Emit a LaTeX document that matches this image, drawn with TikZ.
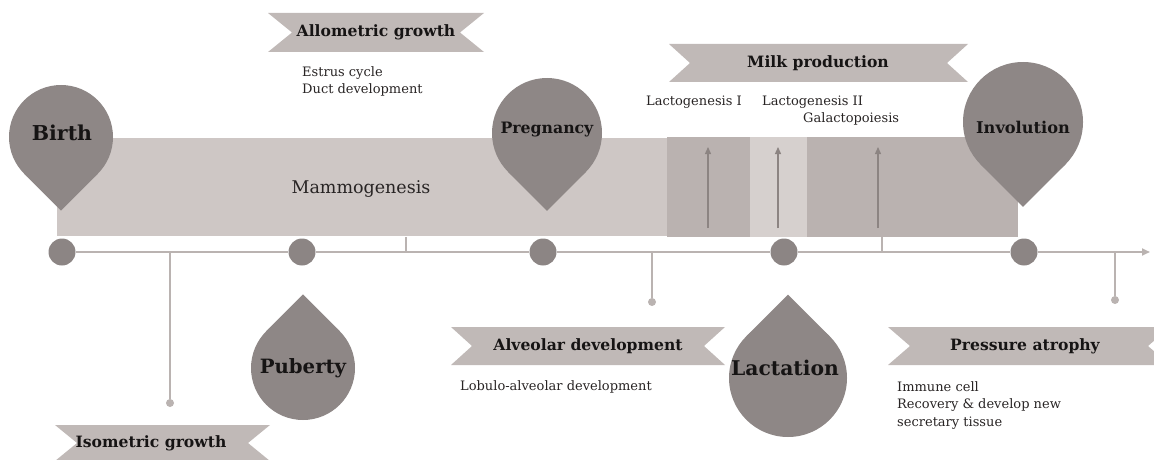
\documentclass[tikz,border=0pt]{standalone}
\usepackage{fontspec}
\setmainfont{DejaVu Serif}
\usetikzlibrary{arrows.meta,calc}
\definecolor{pinc}{RGB}{142,135,134}
\definecolor{dotc}{RGB}{140,133,132}
\definecolor{lightrect}{RGB}{206,199,197}
\definecolor{darkrect}{RGB}{186,178,176}
\definecolor{midrect}{RGB}{214,208,206}
\definecolor{bannerc}{RGB}{192,185,183}
\definecolor{linec}{RGB}{186,179,177}
\definecolor{arrowc}{RGB}{140,132,130}
\definecolor{txtc}{RGB}{22,20,20}
\definecolor{subc}{RGB}{40,36,36}
\newcommand{\mypin}[4]{%
  \fill[pinc] (#1,#2) circle[radius=#3];
  \fill[pinc] ($(#1,#2)+({-0.7071*#3},{#4*0.7071*#3})$) -- (#1,{#2+#4*1.4142*#3})
     -- ($(#1,#2)+({0.7071*#3},{#4*0.7071*#3})$) -- (#1,#2) -- cycle;}
\newcommand{\mybanner}[6]{%
  \fill[bannerc] (#1,#3) -- (#2,#3) -- ({#2-#5},{(#3+#4)/2}) -- (#2,#4) -- (#1,#4)
     -- ({#1+#5},{(#3+#4)/2}) -- cycle;}
\tikzset{
  dotnode/.style={circle,fill=dotc,minimum size=27pt,inner sep=0pt},
  smalldot/.style={circle,fill=linec,minimum size=8pt,inner sep=0pt},
  tline/.style={draw=linec,line width=2pt},
  stem/.style={draw=linec,line width=1.5pt},
  uparrow/.style={draw=arrowc,line width=1.3pt,-{Triangle[length=7pt,width=6pt]}},
  bantxt/.style={font=\bfseries\fontsize{15.6}{18}\selectfont,text=txtc,inner sep=0pt},
  subtxt/.style={font=\fontsize{13}{16}\selectfont,text=subc,inner sep=0pt,anchor=west},
  pintxt/.style={text=txtc,inner sep=0pt},
}
\begin{document}
\begin{tikzpicture}[x=1pt,y=-1pt]
\useasboundingbox (0,0) rectangle (1154,460);
% bands
\fill[lightrect] (57,138) rectangle (667,236);
\fill[darkrect] (667,137) rectangle (750,237);
\fill[midrect] (750,137) rectangle (807,237);
\fill[darkrect] (807,137) rectangle (1018,237);
\node[font=\fontsize{17.5}{20}\selectfont,text=subc,inner sep=0pt] (mammo) at (361,189) {Mammogenesis};
% arrows in lactation bands
\coordinate (a1s) at (708,228); \coordinate (a1e) at (708,147);
\coordinate (a2s) at (778,228); \coordinate (a2e) at (778,147);
\coordinate (a3s) at (878,228); \coordinate (a3e) at (878,147);
\draw[uparrow] (a1s) -- (a1e);
\draw[uparrow] (a2s) -- (a2e);
\draw[uparrow] (a3s) -- (a3e);
% timeline
\node[dotnode] (d1) at (62,252) {};
\node[dotnode] (d2) at (302,252) {};
\node[dotnode] (d3) at (543,252) {};
\node[dotnode] (d4) at (784,252) {};
\node[dotnode] (d5) at (1024,252) {};
\coordinate (tend) at (1150,252);
\draw[tline] (d1) -- (d2);
\draw[tline] (d2) -- (d3);
\draw[tline] (d3) -- (d4);
\draw[tline] (d4) -- (d5);
\draw[tline,-{Triangle[length=8pt,width=7pt]}] (d5) -- (tend);
% ticks up
\coordinate (t1a) at (406,252); \coordinate (t1b) at (406,237);
\coordinate (t2a) at (882,252); \coordinate (t2b) at (882,237);
\draw[stem] (t1a) -- (t1b);
\draw[stem] (t2a) -- (t2b);
% stems down
\coordinate (s1a) at (170,252); \node[smalldot] (s1) at (170,403) {};
\coordinate (s2a) at (652,252); \node[smalldot] (s2) at (652,302) {};
\coordinate (s3a) at (1115,252); \node[smalldot] (s3) at (1115,300) {};
\draw[stem] (s1a) -- (s1);
\draw[stem] (s2a) -- (s2);
\draw[stem] (s3a) -- (s3);
% pins
\mypin{61}{137}{52}{1}
\node[pintxt,font=\bfseries\fontsize{20.5}{24}\selectfont] (birth) at (62,133) {Birth};
\mypin{547}{133}{55}{1}
\node[pintxt,font=\bfseries\fontsize{15.7}{19}\selectfont] (preg) at (547,130) {Pregnancy};
\mypin{1023}{122}{60}{1}
\node[pintxt,font=\bfseries\fontsize{16.2}{19}\selectfont] (invol) at (1023,127) {Involution};
\mypin{303}{368}{52}{-1}
\node[pintxt,font=\bfseries\fontsize{19.7}{23}\selectfont] (pub) at (303,368) {Puberty};
\mypin{788}{378}{59}{-1}
\node[pintxt,font=\bfseries\fontsize{20.3}{24}\selectfont] (lact) at (785,368) {Lactation};
% banners
\mybanner{268}{484}{13}{52}{24}{}
\node[bantxt] (allo) at (376,32) {Allometric growth};
\mybanner{669}{968}{44}{82}{21}{}
\node[bantxt] (milk) at (818,63) {Milk production};
\mybanner{451}{725}{327}{365}{21}{}
\node[bantxt] (alve) at (588,346) {Alveolar development};
\mybanner{888}{1170}{327}{365}{22}{}
\node[bantxt] (press) at (1025,346) {Pressure atrophy};
\mybanner{55}{270}{425}{461}{22}{}
\node[bantxt] (iso) at (151,443) {Isometric growth};
% small texts
\node[subtxt] (estrus) at (302,73) {Estrus cycle};
\node[subtxt] (duct) at (302,90) {Duct development};
\node[subtxt] (lg1) at (646,102) {Lactogenesis I};
\node[subtxt] (lg2) at (762,102) {Lactogenesis II};
\node[subtxt] (galac) at (803,119) {Galactopoiesis};
\node[subtxt] (lobulo) at (460,387) {Lobulo-alveolar development};
\node[subtxt] (immune) at (897,387) {Immune cell};
\node[subtxt] (recov) at (897,405) {Recovery \& develop new};
\node[subtxt] (secr) at (897,423) {secretary tissue};
\end{tikzpicture}
\end{document}
